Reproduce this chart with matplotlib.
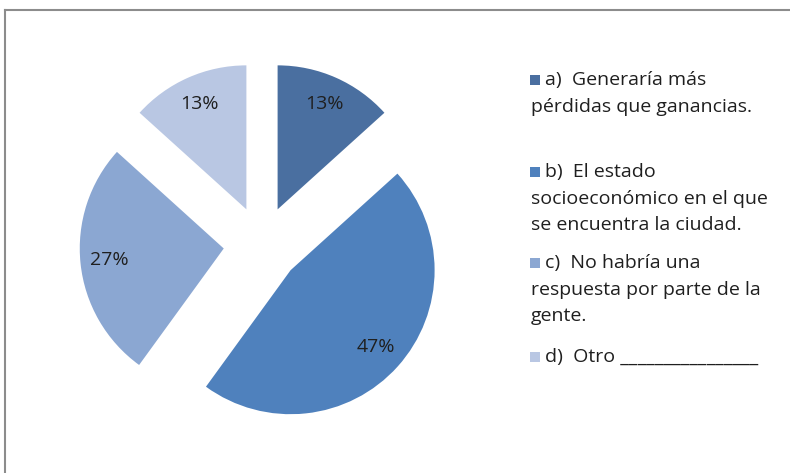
import numpy as np
import matplotlib
matplotlib.use("Agg")
import matplotlib.pyplot as plt
from matplotlib.patches import Rectangle
from matplotlib.lines import Line2D

categories = [
    "a)  Generaría más\npérdidas que ganancias.",
    "b)  El estado\nsocioeconómico en el que\nse encuentra la ciudad.",
    "c)  No habría una\nrespuesta por parte de la\ngente.",
    "d)  Otro ________________",
]
values = [13.3, 46.7, 26.7, 13.3]
pct_labels = ["13%", "47%", "27%", "13%"]
colors = ["#4a6fa0", "#4f81bd", "#8ba7d2", "#b9c7e3"]

plt.rcParams["font.family"] = ["Open Sans", "DejaVu Sans"]

W, H = 790, 473
fig = plt.figure(figsize=(W / 100, H / 100), dpi=100)

# pie axes: center at (262, 244.5) px, radius ~144 px, limits +-1.5
cx, cy, r = 262, 244.5, 144
half = 1.5 * r
ax = fig.add_axes([(cx - half) / W, (H - cy - half) / H, 2 * half / W, 2 * half / H])
wedges, _ = ax.pie(values, colors=colors, startangle=90, counterclock=False,
                   explode=[0.267] * 4, radius=1)
# percentage labels
for w, lab in zip(wedges, pct_labels):
    ang = np.deg2rad((w.theta1 + w.theta2) / 2)
    ox, oy = w.center
    ax.text(ox + 0.8 * np.cos(ang), oy + 0.8 * np.sin(ang), lab,
            ha="center", va="center", fontsize=14, color="#1f1f1f")
ax.set_xlim(-1.5, 1.5)
ax.set_ylim(-1.5, 1.5)
ax.set_aspect("equal")
ax.axis("off")

# legend drawn by hand
line_h = 26.5
y_starts = [80, 172, 263, 357]
for lab, col, y0 in zip(categories, colors, y_starts):
    fig.patches.append(Rectangle((530 / W, 1 - (y0 + 5) / H), 10 / W, 10 / H,
                                 transform=fig.transFigure, facecolor=col,
                                 edgecolor="none"))
    for i, line in enumerate(lab.split("\n")):
        x0 = 545 if i == 0 else 531
        fig.text(x0 / W, 1 - (y0 + i * line_h) / H, line, ha="left", va="center",
                 fontsize=14, color="#1f1f1f")

# frame lines
fig.add_artist(Line2D([5 / W, 1], [1 - 10 / H, 1 - 10 / H], color="#8c8c8c",
                      lw=1.5, transform=fig.transFigure))
fig.add_artist(Line2D([5 / W, 5 / W], [0, 1 - 10 / H], color="#8c8c8c",
                      lw=1.5, transform=fig.transFigure))

fig.savefig("out.png", dpi=100, facecolor="white")
